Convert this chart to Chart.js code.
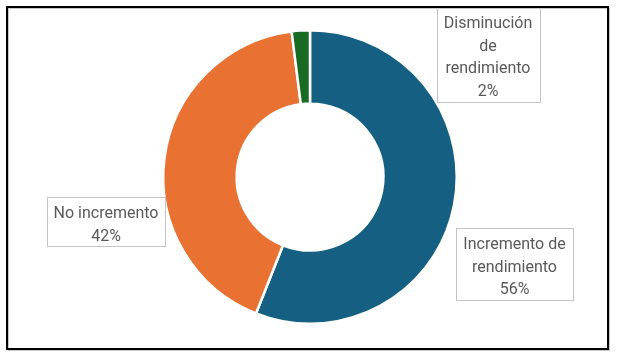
<!DOCTYPE html>
<html><head><meta charset="utf-8">
<script src="https://cdn.jsdelivr.net/npm/chart.js@4"></script>
<style>html,body{margin:0;padding:0;background:#fff}#wrap{width:618px;height:358px;position:relative}</style>
</head><body><div id="wrap"><canvas id="c" width="618" height="358"></canvas></div>
<script>
const categories = ["Incremento de rendimiento", "No incremento", "Disminución de rendimiento"];
const values = [56, 42, 2];
const colors = ["#156082", "#E97132", "#196B24"];
// label text lines (as shown in the chart)
const labelLines = [["Incremento de", "rendimiento", "56%"], ["No incremento", "42%"], ["Disminución", "de", "rendimiento", "2%"]];
// label box layout: center x, top y, width
const labelBoxes = [{cx:514.5, top:228, w:117}, {cx:106, top:197, w:118}, {cx:488, top:7, w:103}];

const labelPlugin = {
  id: 'labels',
  afterDraw(chart) {
    const ctx = chart.ctx;
    ctx.save();
    ctx.font = '16px Roboto';
    ctx.textAlign = 'center'; ctx.textBaseline = 'middle';
    const lh = 22.7;
    labelLines.forEach((lines, i) => {
      const b = labelBoxes[i];
      const h = Math.round(lines.length * lh + 4);
      ctx.fillStyle = '#fff';
      ctx.fillRect(b.cx - b.w/2, b.top, b.w, h);
      ctx.strokeStyle = '#c4c4c4'; ctx.lineWidth = 1;
      ctx.strokeRect(Math.round(b.cx - b.w/2) + 0.5, b.top + 0.5, b.w, h);
      ctx.fillStyle = '#595959';
      lines.forEach((t, j) => ctx.fillText(t, b.cx, b.top + 2 + lh/2 + j*lh + 3.5));
    });
    // frame
    ctx.strokeStyle = '#c8c8c8'; ctx.lineWidth = 1;
    ctx.strokeRect(8.5, 8.5, 601, 342);
    ctx.strokeStyle = '#000'; ctx.lineWidth = 2;
    ctx.strokeRect(7, 7, 601, 342);
    ctx.restore();
  }
};

new Chart(document.getElementById('c'), {
  type: 'doughnut',
  data: { labels: categories, datasets: [{ data: values, backgroundColor: colors, borderColor: '#fff', borderWidth: 2.5 }] },
  options: {
    responsive: false, animation: false, cutout: '50%',
    layout: { padding: { top: 28, bottom: 32, left: 162, right: 160 } },
    plugins: { legend: { display: false }, tooltip: { enabled: false } }
  },
  plugins: [labelPlugin]
});
</script></body></html>
